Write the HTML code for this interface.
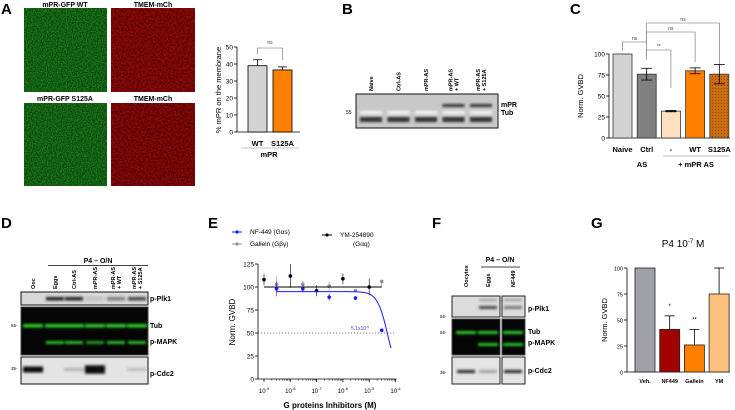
<!DOCTYPE html>
<html><head><meta charset="utf-8"><style>
html,body{margin:0;padding:0;background:#fff;}
svg{display:block;font-family:"Liberation Sans",Arial,sans-serif;}
.pl{font-weight:bold;font-size:15px;}
.t{font-size:7px;}
.b{font-weight:bold;}
</style></head><body>
<svg id="fig" width="735" height="410" viewBox="0 0 735 410" xmlns="http://www.w3.org/2000/svg">
<defs>
<filter id="noiseG" x="0" y="0" width="100%" height="100%" color-interpolation-filters="sRGB"><feTurbulence type="fractalNoise" baseFrequency="0.8" numOctaves="2" seed="3"/><feColorMatrix values="0 0 0 0 0.03  1.5 0 0 0 -0.38  0 0 0 0 0.03  0 0 0 0 1"/></filter>
<filter id="noiseR" x="0" y="0" width="100%" height="100%" color-interpolation-filters="sRGB"><feTurbulence type="fractalNoise" baseFrequency="0.6" numOctaves="2" seed="7"/><feColorMatrix values="1.5 0 0 0 -0.25  0 0 0 0 0.02  0 0 0 0 0.02  0 0 0 0 1"/></filter>
<filter id="blur1"><feGaussianBlur stdDeviation="1.2"/></filter>
<pattern id="dots" width="3" height="3" patternUnits="userSpaceOnUse"><rect width="3" height="3" fill="#d07010"/><circle cx="1.5" cy="1.5" r="0.7" fill="#8a4a08"/></pattern>
</defs>

<!-- Panel A -->
<g>
<text class="pl" x="1" y="14">A</text>
<text class="t b" x="65" y="7" text-anchor="middle" font-size="5.5">mPR-GFP WT</text>
<text class="t b" x="153" y="7" text-anchor="middle" font-size="5.5">TMEM-mCh</text>
<text class="t b" x="65" y="101" text-anchor="middle" font-size="5.5">mPR-GFP S125A</text>
<text class="t b" x="153" y="101" text-anchor="middle" font-size="5.5">TMEM-mCh</text>
<rect x="24" y="8" width="83" height="84" fill="#1c601c"/>
<rect x="24" y="8" width="83" height="84" filter="url(#noiseG)" opacity="0.4"/>
<rect x="111" y="8" width="84" height="84" fill="#700808"/>
<rect x="111" y="8" width="84" height="84" filter="url(#noiseR)" opacity="0.4"/>
<rect x="24" y="103" width="83" height="83" fill="#1c601c"/>
<rect x="24" y="103" width="83" height="83" filter="url(#noiseG)" opacity="0.4"/>
<rect x="111" y="103" width="84" height="83" fill="#680707"/>
<rect x="111" y="103" width="84" height="83" filter="url(#noiseR)" opacity="0.4"/>
<g id="chartA"></g>
</g>

<!-- Panel B -->
<g>
<text class="pl" x="342" y="14">B</text>
<rect x="356" y="94" width="142" height="34" fill="#c8c8c8" stroke="#111" stroke-width="1"/>
<g id="blotB" filter="url(#blur1)"></g>
<text class="t b" x="501" y="107">mPR</text>
<text class="t b" x="501" y="115">Tub</text>
<text x="346" y="114" font-size="5">55</text>
<g id="laneB"></g>
</g>

<!-- Panel C -->
<g>
<text class="pl" x="570" y="14">C</text>
<g id="chartC"></g>
</g>

<!-- Panel D -->
<g>
<text class="pl" x="1" y="228">D</text>
<text class="t b" x="98" y="263" text-anchor="middle" font-size="6">P4 – O/N</text>
<line x1="48" y1="265.5" x2="148" y2="265.5" stroke="#000" stroke-width="0.8"/>
<rect x="21" y="292" width="127" height="13" fill="#d8d8d8" stroke="#111"/>
<rect x="21" y="307" width="127" height="48" fill="#050505" stroke="#444"/>
<rect x="21" y="357" width="127" height="27" fill="#e4e4e4" stroke="#111"/>
<g id="blotD" filter="url(#blur1)"></g>
<g id="laneD"></g>
<text class="t b" x="150" y="301" font-size="6">p-Plk1</text>
<text class="t b" x="150" y="328" font-size="6">Tub</text>
<text class="t b" x="150" y="344" font-size="6">p-MAPK</text>
<text class="t b" x="150" y="376" font-size="6">p-Cdc2</text>
<text x="11" y="327" font-size="4.5">55-</text>
<text x="11" y="370" font-size="4.5">35-</text>
</g>

<!-- Panel E -->
<g>
<text class="pl" x="208" y="228">E</text>
<g id="chartE"></g>
</g>

<!-- Panel F -->
<g>
<text class="pl" x="432" y="228">F</text>
<text class="t b" x="500" y="262" text-anchor="middle" font-size="6">P4 – O/N</text>
<line x1="481" y1="267" x2="520" y2="267" stroke="#000" stroke-width="0.8"/>
<rect x="452" y="296" width="48" height="21" fill="#dcdcdc" stroke="#222"/>
<rect x="502" y="296" width="23" height="21" fill="#dcdcdc" stroke="#222"/>
<rect x="452" y="319" width="48" height="36" fill="#050505" stroke="#444"/>
<rect x="502" y="319" width="23" height="36" fill="#050505" stroke="#444"/>
<rect x="452" y="357" width="48" height="27" fill="#e4e4e4" stroke="#222"/>
<rect x="502" y="357" width="23" height="27" fill="#e4e4e4" stroke="#222"/>
<g id="blotF" filter="url(#blur1)"></g>
<g id="laneF"></g>
<text class="t b" x="528" y="311" font-size="6">p-Plk1</text>
<text class="t b" x="528" y="334" font-size="6">Tub</text>
<text class="t b" x="528" y="345" font-size="6">p-MAPK</text>
<text class="t b" x="528" y="373" font-size="6">p-Cdc2</text>
<text x="440" y="318" font-size="4.5">55-</text>
<text x="440" y="334" font-size="4.5">55-</text>
<text x="440" y="374" font-size="4.5">35-</text>
</g>

<!-- Panel G -->
<g>
<text class="pl" x="591" y="228">G</text>
<text x="683" y="247" font-size="10" text-anchor="middle">P4 10<tspan font-size="6" dy="-4">-7</tspan><tspan dy="4"> M</tspan></text>
<g id="chartG"></g>
</g>
</svg>
<script>
const NS='http://www.w3.org/2000/svg';
function mk(parent,tag,attrs,txt){const e=document.createElementNS(NS,tag);for(const k in attrs)e.setAttribute(k,attrs[k]);if(txt!==undefined)e.textContent=txt;parent.appendChild(e);return e;}

// ---------- Chart A data ----------
const catsA=['WT','S125A'];
const valsA=[39,36.5];
const errA=[3.5,1.8];
const ticksA=[0,10,20,30,40,50];
const colorsA=['#d3d3d3','#ff8000'];
(function(){
 const g=document.getElementById('chartA');
 const y=v=>132-v*85/50;
 const x0=237;
 mk(g,'line',{x1:x0,y1:y(0),x2:x0,y2:y(50),stroke:'#000','stroke-width':0.8});
 mk(g,'line',{x1:x0,y1:y(0),x2:300,y2:y(0),stroke:'#000','stroke-width':0.8});
 ticksA.forEach(t=>{mk(g,'line',{x1:x0-3,y1:y(t),x2:x0,y2:y(t),stroke:'#000','stroke-width':0.8});
  const tx=mk(g,'text',{x:x0-4,y:y(t)+2.5,'font-size':6.5,'text-anchor':'end'},t);
  });
 catsA.forEach((c,i)=>{const bx=248+i*25;
  const r=mk(g,'rect',{x:bx,y:y(valsA[i]),width:19,height:y(0)-y(valsA[i]),fill:colorsA[i],stroke:'#000','stroke-width':0.8});
  
  mk(g,'line',{x1:bx+9.5,y1:y(valsA[i]),x2:bx+9.5,y2:y(valsA[i]+errA[i]),stroke:'#000','stroke-width':0.8});
  mk(g,'line',{x1:bx+5,y1:y(valsA[i]+errA[i]),x2:bx+14,y2:y(valsA[i]+errA[i]),stroke:'#000','stroke-width':0.8});
  const l=mk(g,'text',{x:bx+9.5,y:146,'font-size':7.5,'font-weight':'bold','text-anchor':'middle'},c);
  });
 mk(g,'line',{x1:241,y1:148,x2:299,y2:148,stroke:'#888','stroke-width':0.6});
 const m=mk(g,'text',{x:269,y:157,'font-size':7.5,'font-weight':'bold','text-anchor':'middle'},'mPR');
 
 mk(g,'path',{d:'M257.5 54 V48 H282.5 V60',fill:'none',stroke:'#666','stroke-width':0.6});
 mk(g,'text',{x:270,y:44,'font-size':5,'text-anchor':'middle',fill:'#444'},'ns');
 const yt=mk(g,'text',{x:221,y:90,'font-size':7.5,'text-anchor':'middle',transform:'rotate(-90 221 90)'},'% mPR on the membrane');
 
})();

// ---------- Blot B ----------
const lanesB=['Naive','Ctrl-AS','mPR-AS','mPR-AS|+ WT','mPR-AS|+ S125A'];
(function(){
 const g=document.getElementById('blotB'),L=document.getElementById('laneB');
 lanesB.forEach((n,i)=>{const cx=371+i*27.5;
  mk(g,'rect',{x:cx-11,y:117,width:22,height:5,fill:'#333'});
  mk(g,'rect',{x:cx-11,y:111,width:22,height:3,fill:'#f4f4f4'});
  if(i>=3)mk(g,'rect',{x:cx-11,y:104,width:22,height:3,fill:'#333'});
  n.split('|').forEach((p,j,a)=>{const xx=cx-(a.length-1)*3+j*6+2;
   const t=mk(L,'text',{x:xx,y:91,'font-size':5.5,'font-weight':'bold',transform:`rotate(-90 ${xx} 91)`},p);
   });
 });
})();

// ---------- Chart C data ----------
const catsC=['Naive','Ctrl','-','WT','S125A'];
const valsC=[100,76,32,80,76];
const errC=[0,7,0.8,3.5,11.5];
const ticksC=[0,25,50,75,100];
const colorsC=['#d3d3d3','#808080','#ffe0c0','#ff8000','url(#dots)'];
(function(){
 const g=document.getElementById('chartC');
 const y=v=>138-v*0.84;const x0=609;
 mk(g,'line',{x1:x0,y1:y(0),x2:x0,y2:y(100),stroke:'#000','stroke-width':0.8});
 mk(g,'line',{x1:x0,y1:y(0),x2:730,y2:y(0),stroke:'#000','stroke-width':0.8});
 ticksC.forEach(t=>{mk(g,'line',{x1:x0-3,y1:y(t),x2:x0,y2:y(t),stroke:'#000','stroke-width':0.8});
  const tx=mk(g,'text',{x:x0-4,y:y(t)+2.5,'font-size':6.5,'text-anchor':'end'},t);
  });
 const xs=[];
 catsC.forEach((c,i)=>{const bx=613+i*24.2;xs.push(bx+9.5);
  const r=mk(g,'rect',{x:bx,y:y(valsC[i]),width:19,height:y(0)-y(valsC[i]),fill:colorsC[i],stroke:'#333','stroke-width':0.8});
  
  if(errC[i]>0){const a=valsC[i]-errC[i],b=valsC[i]+errC[i];
   mk(g,'line',{x1:bx+9.5,y1:y(a),x2:bx+9.5,y2:y(b),stroke:'#000','stroke-width':0.8});
   mk(g,'line',{x1:bx+4,y1:y(a),x2:bx+15,y2:y(a),stroke:'#000','stroke-width':0.8});
   mk(g,'line',{x1:bx+4,y1:y(b),x2:bx+15,y2:y(b),stroke:'#000','stroke-width':0.8});}
  const l=mk(g,'text',{x:bx+9.5,y:152,'font-size':7.5,'font-weight':'bold','text-anchor':'middle'},c);
  });
 mk(g,'line',{x1:663,y1:156,x2:729,y2:156,stroke:'#888','stroke-width':0.6});
 mk(g,'text',{x:642,y:167,'font-size':7.5,'font-weight':'bold','text-anchor':'middle'},'AS');
 mk(g,'text',{x:696,y:167,'font-size':7.5,'font-weight':'bold','text-anchor':'middle'},'+ mPR AS');
 const br=(a,b,h,ya,yb,t)=>{mk(g,'path',{d:`M${a} ${ya} V${h} H${b} V${yb}`,fill:'none',stroke:'#666','stroke-width':0.6});
  mk(g,'text',{x:(a+b)/2,y:h-2,'font-size':5,'text-anchor':'middle',fill:'#444'},t);};
 br(xs[0],xs[1],42,51,60,'ns');br(xs[1],xs[2],50,56,88,'**');
 br(xs[1],xs[3],32,42,62,'ns');br(xs[1],xs[4],23,42,64,'ns');
 const yt=mk(g,'text',{x:583,y:96,'font-size':7.5,'text-anchor':'middle',transform:'rotate(-90 583 96)'},'Norm. GVBD');
 
})();

// ---------- Blot D ----------
const lanesD=['Ooc','Eggs','Ctrl-AS','mPR-AS','mPR-AS|+ WT','mPR-AS|+ S125A'];
const plkD=[0,1,1,0.15,0.5,0.8];
const mapkD=[0,1,1,0.8,1,1];
const cdcD=[1,0,0.2,1.8,0,0.15];
(function(){
 const g=document.getElementById('blotD'),L=document.getElementById('laneD');
 const xs=[33,55,74,95,116,137];
 lanesD.forEach((n,i)=>{const cx=xs[i];
  if(plkD[i]>0)mk(g,'rect',{x:cx-9,y:297,width:18,height:3.5,fill:'#222','fill-opacity':plkD[i]});
  mk(g,'rect',{x:cx-10,y:324,width:20,height:3.5,fill:'#2ad02a'});
  if(mapkD[i]>0)mk(g,'rect',{x:cx-9,y:341,width:18,height:3,fill:'#2ac02a','fill-opacity':mapkD[i]});
  if(cdcD[i]>0)mk(g,'rect',{x:cx-10,y:368-cdcD[i]*1.5,width:20,height:3+cdcD[i]*3,fill:'#111','fill-opacity':Math.min(1,cdcD[i])});
  n.split('|').forEach((p,j,a)=>{const xx=cx-(a.length-1)*3+j*6+2;
   const t=mk(L,'text',{x:xx,y:289,'font-size':5.5,'font-weight':'bold',transform:`rotate(-90 ${xx} 289)`},p);
   });
 });
})();

// ---------- Chart E data ----------
const ticksEx=[-9,-8,-7,-6,-5,-4];
const ticksEy=[0,25,50,75,100,125];
const ymDose=[1e-9,1e-8,1e-7,1e-6,1e-5];
const ymVals=[108,112,96,109,100];
const ymErr=[6,13,6,6,9];
const galDose=[3e-9,3e-8,3e-7,3e-6,3e-5];
const galVals=[103,103,101,96,106];
const galErr=[9,4,5,0,0];
const nfDose=[3e-9,3e-8,3e-7,3e-6,3e-5];
const nfVals=[98,98,89,88,53];
const nfErr=[8,4,4,2,0];
const nfFit=[95,5.1e-5,2.2]; // top, IC50, hill
(function(){
 const g=document.getElementById('chartE');
 const x=d=>264+(Math.log10(d)+9)*26.3;const y=v=>379-v*0.92;const x0=258;
 mk(g,'line',{x1:x0,y1:y(0),x2:x0,y2:y(125),stroke:'#000','stroke-width':0.8});
 mk(g,'line',{x1:x0,y1:y(0),x2:x(1e-4)+1,y2:y(0),stroke:'#000','stroke-width':0.8});
 ticksEy.forEach(t=>{mk(g,'line',{x1:x0-3,y1:y(t),x2:x0,y2:y(t),stroke:'#000','stroke-width':0.8});
  const tx=mk(g,'text',{x:x0-4,y:y(t)+2.5,'font-size':6.5,'text-anchor':'end'},t);
  });
 ticksEx.forEach(t=>{const px=x(Math.pow(10,t));
  mk(g,'line',{x1:px,y1:y(0),x2:px,y2:y(0)+3,stroke:'#000','stroke-width':0.8});
  if(t<-4)for(let k=2;k<10;k++){const q=x(k*Math.pow(10,t));mk(g,'line',{x1:q,y1:y(0),x2:q,y2:y(0)+1.8,stroke:'#000','stroke-width':0.5});}
  const tx=mk(g,'text',{x:px,y:393,'font-size':6,'text-anchor':'middle'});
  
  tx.appendChild(document.createTextNode('10'));mk(tx,'tspan',{'font-size':4,dy:-3},String(t));});
 mk(g,'line',{x1:x0,y1:y(50),x2:x(1e-4),y2:y(50),stroke:'#555','stroke-width':0.8,'stroke-dasharray':'1.2,1.8'});
 const ser=(dose,vals,err,col,nm)=>{dose.forEach((d,i)=>{
  if(err[i]>0)mk(g,'line',{x1:x(d),y1:y(vals[i]-err[i]),x2:x(d),y2:y(vals[i]+err[i]),stroke:col,'stroke-width':0.6});
  const c=mk(g,'circle',{cx:x(d),cy:y(vals[i]),r:1.8,fill:col});
  });};
 ser(galDose,galVals,galErr,'#909090','point-gallein');
 mk(g,'path',{d:`M${x(galDose[4])} ${y(100)} H${x(galDose[4])} V${y(galVals[4])}`,stroke:'#909090',fill:'none','stroke-width':0.8});
 ser(ymDose,ymVals,ymErr,'#000','point-ym');
 mk(g,'line',{x1:x(ymDose[0]),y1:y(100),x2:x(galDose[4]),y2:y(100),stroke:'#000','stroke-width':1});
 ser(nfDose,nfVals,nfErr,'#1a1aff','point-nf449');
 let d='';for(let lg=Math.log10(nfDose[0]);lg<=Math.log10(7.2e-5);lg+=0.05){const c=Math.pow(10,lg);
  const v=nfFit[0]/(1+Math.pow(c/nfFit[1],nfFit[2]));d+=(d?'L':'M')+x(c).toFixed(1)+' '+y(v).toFixed(1);}
 const p=mk(g,'path',{d:d,fill:'none',stroke:'#1a1aff','stroke-width':1});
 
 const it=mk(g,'text',{x:351,y:y(50)-3,'font-size':5,fill:'#3a3aff'},'5.1x10');mk(it,'tspan',{'font-size':3.5,dy:-2},'-5');
 const xt=mk(g,'text',{x:330,y:408,'font-size':8,'font-weight':'bold','text-anchor':'middle'},'G proteins Inhibitors (M)');
 
 const yt=mk(g,'text',{x:235,y:322,'font-size':8,'text-anchor':'middle',transform:'rotate(-90 235 322)'},'Norm. GVBD');
 
 const leg=[[232,234,'#1a1aff','NF-449 (Gαs)'],[232,246,'#909090','Gallein (Gβγ)'],[322,237,'#000','YM-254890']];
 leg.forEach(l=>{mk(g,'line',{x1:l[0],y1:l[1]-2,x2:l[0]+10,y2:l[1]-2,stroke:l[2],'stroke-width':1});
  mk(g,'circle',{cx:l[0]+5,cy:l[1]-2,r:1.6,fill:l[2]});
  const t=mk(g,'text',{x:l[0]+18,y:l[1],'font-size':6.5},l[3]);
  });
 mk(g,'text',{x:353,y:246,'font-size':6.5},'(Gαq)');
})();

// ---------- Blot F ----------
const lanesF=['Oocytes','Eggs','NF449'];
(function(){
 const g=document.getElementById('blotF'),L=document.getElementById('laneF');
 const xs=[466,488,513];
 lanesF.forEach((n,i)=>{const cx=xs[i];
  if(i>0){mk(g,'rect',{x:cx-9,y:306,width:18,height:3,fill:'#333','fill-opacity':i==1?0.9:0.6});
   mk(g,'rect',{x:cx-9,y:299,width:18,height:2,fill:'#555','fill-opacity':0.5});
   mk(g,'rect',{x:cx-10,y:343,width:20,height:3,fill:'#2ac02a'});}
  mk(g,'rect',{x:cx-10,y:331,width:20,height:3,fill:'#2ad02a'});
  mk(g,'rect',{x:cx-9,y:370,width:18,height:3,fill:'#111','fill-opacity':i==1?0.3:0.9});
  const t=mk(L,'text',{x:cx+2,y:287,'font-size':5.5,'font-weight':'bold',transform:`rotate(-90 ${cx+2} 287)`},n);
  });
})();

// ---------- Chart G data ----------
const catsG=['Veh.','NF449','Gallein','YM'];
const valsG=[100,41,26,75];
const errG=[0,13,15,25];
const sigG=['','*','**',''];
const ticksG=[0,25,50,75,100];
const colorsG=['#a0a0a8','#a00000','#ff8000','#ffc080'];
(function(){
 const g=document.getElementById('chartG');
 const y=v=>372-v*1.04;const x0=627;
 mk(g,'line',{x1:x0,y1:y(0),x2:x0,y2:y(100),stroke:'#000','stroke-width':0.8});
 mk(g,'line',{x1:x0,y1:y(0),x2:730,y2:y(0),stroke:'#000','stroke-width':0.8});
 ticksG.forEach(t=>{mk(g,'line',{x1:x0-3,y1:y(t),x2:x0,y2:y(t),stroke:'#000','stroke-width':0.8});
  const tx=mk(g,'text',{x:x0-4,y:y(t)+2.5,'font-size':5.5,'text-anchor':'end'},t);
  });
 catsG.forEach((c,i)=>{const bx=635+i*24.7;
  const r=mk(g,'rect',{x:bx,y:y(valsG[i]),width:20,height:y(0)-y(valsG[i]),fill:colorsG[i],stroke:'#222','stroke-width':0.8});
  
  if(errG[i]>0){const t=valsG[i]+errG[i];
   mk(g,'line',{x1:bx+10,y1:y(valsG[i]),x2:bx+10,y2:y(t),stroke:'#000','stroke-width':0.8});
   mk(g,'line',{x1:bx+5,y1:y(t),x2:bx+15,y2:y(t),stroke:'#000','stroke-width':0.8});}
  if(sigG[i])mk(g,'text',{x:bx+10,y:y(valsG[i]+errG[i])-8,'font-size':6,'text-anchor':'middle'},sigG[i]);
  const l=mk(g,'text',{x:bx+10,y:383,'font-size':5.5,'font-weight':'bold','text-anchor':'middle'},c);
  });
 const yt=mk(g,'text',{x:607,y:320,'font-size':7.5,'text-anchor':'middle',transform:'rotate(-90 607 320)'},'Norm. GVBD');
 
})();
</script>
</body></html>
